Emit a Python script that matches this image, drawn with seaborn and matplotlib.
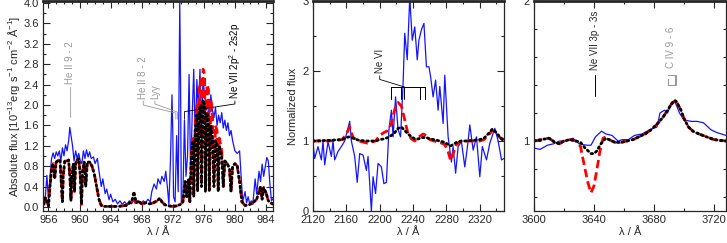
import numpy as np
import pandas as pd
import matplotlib
matplotlib.use('Agg')
import matplotlib.pyplot as plt
from matplotlib.ticker import MultipleLocator
import seaborn as sns

# ── DATA: panel 1 (FUV, absolute flux) ───────────────────────────────────────
obs1_wave = [955.4, 955.6, 955.8, 956.0, 956.2, 956.4, 956.6, 956.8, 957.0, 957.2,
             957.4, 957.6, 957.8, 958.0, 958.2, 958.4, 958.6, 958.75, 958.9, 959.1,
             959.3, 959.5, 959.7, 959.9, 960.1, 960.3, 960.5, 960.7, 960.9, 961.1,
             961.3, 961.5, 961.8, 962.0, 962.3, 962.5, 962.8, 963.0, 963.3, 963.5,
             963.8, 964.0, 964.3, 964.6, 964.9, 965.2, 965.5, 965.8, 966.1, 966.4,
             966.7, 967.0, 967.3, 967.6, 967.9, 968.2, 968.5, 968.8, 969.1, 969.3,
             969.6, 969.9, 970.1, 970.4, 970.6, 970.9, 971.1, 971.3, 971.5, 971.7,
             971.9, 972.0, 972.1, 972.3, 972.5, 972.7, 972.9, 973.0, 973.1, 973.3,
             973.5, 973.7, 973.9, 974.1, 974.3, 974.5, 974.7, 974.9, 975.1, 975.3,
             975.5, 975.7, 975.9, 976.1, 976.3, 976.5, 976.7, 976.9, 977.1, 977.3,
             977.5, 977.7, 977.9, 978.1, 978.3, 978.5, 978.7, 978.9, 979.1, 979.3,
             979.5, 979.7, 980.0, 980.3, 980.6, 980.8, 981.0, 981.3, 981.5, 981.7,
             981.9, 982.1, 982.3, 982.6, 982.8, 983.1, 983.3, 983.5, 983.7, 984.1,
             984.3, 984.5, 984.7, 985.0]
obs1_flux = [0.10, 0.20, 0.62, 0.14, 0.60, 0.95, 1.06, 0.95, 1.08, 1.00,
             1.10, 0.90, 1.16, 1.00, 1.22, 1.10, 1.30, 1.56, 1.40, 1.20,
             0.90, 1.10, 0.95, 1.05, 0.90, 0.85, 1.10, 0.95, 1.12, 0.98,
             1.08, 0.95, 0.98, 0.85, 0.95, 0.71, 0.40, 0.55, 0.26, 0.35,
             0.14, 0.25, 0.10, 0.15, 0.06, 0.12, 0.05, 0.10, 0.05, 0.12,
             0.06, 0.15, 0.08, 0.12, 0.06, 0.12, 0.08, 0.15, 0.10, 0.30,
             0.45, 0.35, 0.55, 0.45, 0.60, 0.50, 0.70, 0.40, 0.05, 0.90,
             2.20, 1.50, 0.20, 0.10, 1.40, 0.30, 4.00, 2.50, 0.10, 0.15,
             1.70, 0.60, 1.00, 2.60, 0.60, 1.80, 2.70, 1.20, 2.50, 1.90,
             2.70, 1.60, 2.50, 2.20, 1.90, 2.00, 1.70, 2.20, 1.90, 1.75,
             1.95, 1.60, 1.80, 1.65, 1.85, 1.55, 1.70, 1.50, 1.65, 1.40,
             1.50, 1.30, 1.10, 1.05, 1.10, 0.60, 0.10, 0.30, 0.08, 0.20,
             0.06, 0.12, 0.05, 0.55, 0.25, 0.70, 0.50, 0.84, 0.60, 0.97,
             0.90, 0.45, 0.12, 0.18]

mod1_wave = [955.4, 955.6, 955.8, 956.0, 956.2, 956.4, 956.6, 956.8, 957.0, 957.3,
             957.5, 957.7, 957.8, 957.9, 958.1, 958.4, 958.6, 958.8, 958.9, 959.0,
             959.2, 959.35, 959.5, 959.7, 959.9, 960.1, 960.25, 960.4, 960.6, 960.8,
             961.0, 961.3, 961.6, 961.9, 962.2, 962.5, 962.8, 963.2, 964.0, 965.0,
             965.5, 966.0, 966.5, 966.8, 967.0, 967.3, 967.6, 968.0, 968.5, 969.0,
             969.5, 970.0, 970.3, 970.6, 971.0, 971.5, 972.0, 972.5, 973.0, 973.3,
             973.6, 973.8, 974.0, 974.2, 974.4, 974.6, 974.7, 974.9, 975.1, 975.2,
             975.4, 975.6, 975.7, 975.9, 976.1, 976.2, 976.4, 976.6, 976.7, 976.9,
             977.1, 977.3, 977.5, 977.7, 977.85, 978.0, 978.3, 978.5, 978.7, 979.0,
             979.3, 979.5, 979.7, 980.0, 980.3, 980.6, 980.9, 981.3, 981.8, 982.3,
             982.8, 983.1, 983.3, 983.5, 983.7, 984.0, 984.3, 984.6, 985.0]
black1_flux = [0.05, 0.18, 0.10, 0.02, 0.40, 0.75, 0.85, 0.55, 0.88, 0.92,
               0.90, 0.35, 0.10, 0.60, 0.90, 0.90, 0.92, 0.50, 0.12, 0.55,
               0.85, 0.30, 0.85, 0.92, 0.95, 0.60, 0.05, 0.70, 0.88, 0.40,
               0.88, 0.88, 0.80, 0.65, 0.40, 0.15, 0.03, 0.01, 0.01, 0.01,
               0.02, 0.03, 0.08, 0.15, 0.30, 0.08, 0.12, 0.06, 0.08, 0.06,
               0.08, 0.12, 0.17, 0.10, 0.04, 0.02, 0.01, 0.02, 0.05, 0.10,
               0.50, 0.20, 0.55, 0.10, 1.00, 1.30, 0.20, 1.50, 1.80, 0.30,
               1.90, 2.00, 0.40, 2.10, 2.00, 0.30, 1.85, 1.70, 0.30, 1.60,
               1.40, 0.40, 1.30, 1.25, 0.30, 1.20, 1.00, 0.40, 0.90, 0.85,
               0.75, 0.30, 0.80, 0.85, 0.80, 0.50, 0.10, 0.03, 0.04, 0.08,
               0.15, 0.30, 0.40, 0.15, 0.38, 0.28, 0.12, 0.08, 0.05]
red1_flux = [0.05, 0.18, 0.10, 0.02, 0.40, 0.75, 0.85, 0.55, 0.88, 0.92,
             0.90, 0.35, 0.10, 0.60, 0.90, 0.90, 0.92, 0.50, 0.12, 0.55,
             0.85, 0.30, 0.85, 0.92, 0.95, 0.60, 0.05, 0.70, 0.88, 0.40,
             0.88, 0.88, 0.80, 0.65, 0.40, 0.15, 0.03, 0.01, 0.01, 0.01,
             0.02, 0.03, 0.08, 0.12, 0.15, 0.05, 0.10, 0.06, 0.08, 0.06,
             0.08, 0.12, 0.17, 0.10, 0.04, 0.02, 0.01, 0.02, 0.05, 0.10,
             0.45, 0.20, 0.50, 0.10, 1.05, 1.40, 0.25, 1.70, 2.00, 0.35,
             2.30, 2.50, 0.50, 2.70, 2.60, 0.40, 2.40, 2.30, 0.40, 2.10,
             1.90, 0.50, 1.60, 1.50, 0.35, 1.35, 1.10, 0.40, 0.90, 0.85,
             0.75, 0.30, 0.80, 0.85, 0.80, 0.50, 0.10, 0.03, 0.04, 0.08,
             0.15, 0.30, 0.40, 0.15, 0.38, 0.28, 0.12, 0.08, 0.05]

# ── DATA: panel 2 (UV, normalized) ───────────────────────────────────────────
obs2_wave = [2120, 2122, 2126, 2130, 2132, 2134, 2138, 2142, 2144, 2146,
             2150, 2154, 2158, 2164, 2166, 2170, 2173, 2176, 2180, 2184,
             2186, 2190, 2192, 2195, 2198, 2202, 2205, 2208, 2211, 2214,
             2216, 2219, 2222, 2225, 2228, 2230, 2233, 2236, 2239, 2242,
             2245, 2247, 2250, 2253, 2256, 2259, 2261, 2264, 2267, 2270,
             2272, 2276, 2278, 2282, 2286, 2288, 2291, 2294, 2298, 2302,
             2306, 2308, 2312, 2316, 2320, 2323, 2328, 2332, 2338, 2342,
             2346, 2349]
obs2_flux = [0.97, 0.75, 0.92, 0.73, 1.00, 0.66, 0.99, 0.78, 1.00, 0.73,
             0.85, 0.92, 1.00, 1.28, 1.00, 0.78, 0.41, 0.82, 0.80, 0.58,
             0.78, 0.00, 0.49, 0.25, 0.68, 0.63, 0.39, 0.41, 1.16, 1.44,
             1.06, 1.63, 1.16, 1.06, 1.82, 2.54, 2.16, 3.05, 2.44, 2.63,
             2.16, 2.44, 2.59, 2.68, 2.06, 2.06, 1.92, 1.63, 1.87, 1.44,
             1.78, 1.25, 1.94, 1.06, 0.70, 0.92, 0.54, 0.92, 0.99, 0.63,
             1.00, 1.23, 0.87, 1.06, 0.49, 0.92, 0.73, 0.97, 1.18, 1.00,
             0.73, 0.75]

mod2_wave = [2120, 2140, 2155, 2160, 2164, 2168, 2175, 2185, 2195, 2200,
             2205, 2210, 2214, 2218, 2222, 2226, 2230, 2234, 2238, 2242,
             2246, 2252, 2256, 2260, 2265, 2272, 2278, 2282, 2285, 2288,
             2292, 2298, 2305, 2320, 2325, 2330, 2335, 2340, 2344, 2349]
red2_flux = [1.00, 1.00, 1.02, 1.10, 1.20, 1.05, 1.00, 0.97, 1.00, 1.08,
             1.12, 1.15, 1.25, 1.45, 1.55, 1.50, 1.30, 1.10, 1.03, 1.00,
             1.05, 1.10, 1.08, 1.02, 1.00, 0.98, 0.95, 0.85, 0.72, 0.82,
             0.95, 1.00, 1.00, 1.00, 1.02, 1.08, 1.15, 1.12, 1.05, 1.02]
black2_flux = [1.00, 1.01, 1.02, 1.05, 1.06, 1.04, 1.01, 1.00, 1.00, 1.02,
               1.03, 1.05, 1.08, 1.12, 1.18, 1.20, 1.15, 1.10, 1.06, 1.03,
               1.03, 1.05, 1.05, 1.03, 1.02, 1.00, 0.98, 0.95, 0.93, 0.95,
               0.98, 1.00, 1.00, 1.02, 1.04, 1.10, 1.17, 1.12, 1.05, 1.00]

# ── DATA: panel 3 (optical, normalized) ──────────────────────────────────────
obs3_wave = [3600, 3604, 3609, 3613, 3617, 3622, 3626, 3630, 3635, 3638,
             3641, 3645, 3648, 3652, 3656, 3659, 3663, 3667, 3672, 3677,
             3682, 3684, 3687, 3689, 3691, 3694, 3697, 3700, 3705, 3709,
             3713, 3718, 3722, 3728]
obs3_flux = [0.95, 0.94, 0.97, 0.98, 1.00, 1.00, 1.02, 0.98, 0.97, 0.97,
             1.03, 1.07, 1.05, 1.04, 1.00, 1.01, 1.01, 1.04, 1.05, 1.08,
             1.10, 1.20, 1.22, 1.20, 1.25, 1.28, 1.20, 1.15, 1.14, 1.14,
             1.13, 1.08, 1.06, 1.04]

mod3_wave = [3600, 3605, 3610, 3614, 3617, 3620, 3624, 3628, 3631, 3634,
             3636, 3638, 3640, 3642, 3644, 3646, 3648, 3650, 3654, 3658,
             3662, 3666, 3670, 3674, 3678, 3682, 3686, 3689, 3692, 3694,
             3695, 3698, 3700, 3703, 3706, 3710, 3715, 3720, 3728]
red3_flux = [1.00, 1.01, 1.02, 0.99, 0.98, 1.00, 1.01, 1.00, 0.96, 0.80,
             0.70, 0.63, 0.68, 0.80, 0.93, 1.02, 1.03, 1.01, 0.99, 0.99,
             1.00, 1.01, 1.03, 1.05, 1.08, 1.12, 1.17, 1.22, 1.27, 1.29,
             1.28, 1.22, 1.16, 1.10, 1.07, 1.05, 1.03, 1.01, 1.00]
black3_flux = [1.00, 1.01, 1.02, 0.99, 0.98, 1.00, 1.01, 1.00, 0.99, 0.95,
               0.93, 0.91, 0.91, 0.93, 0.97, 1.00, 1.02, 1.01, 0.99, 0.99,
               1.00, 1.01, 1.03, 1.05, 1.08, 1.12, 1.17, 1.22, 1.27, 1.29,
               1.28, 1.22, 1.16, 1.10, 1.07, 1.05, 1.03, 1.01, 1.00]

# ── STYLE ─────────────────────────────────────────────────────────────────────
sns.set_style('ticks')
plt.rcParams['font.family'] = ['Liberation Sans', 'DejaVu Sans']
plt.rcParams['font.size'] = 8
plt.rcParams['mathtext.fontset'] = 'custom'
plt.rcParams['mathtext.rm'] = 'Liberation Sans'
plt.rcParams['mathtext.it'] = 'Liberation Sans'

W, H = 727, 243
fig = plt.figure(figsize=(W / 100, H / 100), dpi=100)


def make_ax(x0, x1, y0, y1):
    return fig.add_axes([x0 / W, 1 - y1 / H, (x1 - x0) / W, (y1 - y0) / H])


ax1 = make_ax(43, 273, 1, 211)
ax2 = make_ax(313, 504, 1, 211)
ax3 = make_ax(534, 726, 1, 211)

GRAY = '#999999'


def draw(ax, ow, of, mw, rf, bf):
    sns.lineplot(x=ow, y=of, ax=ax, color='#1414ff', lw=0.9, estimator=None, sort=False)
    sns.lineplot(x=mw, y=rf, ax=ax, color='red', lw=2.0, estimator=None, sort=False)
    ax.lines[-1].set_linestyle((0, (3, 1.5)))
    sns.lineplot(x=mw, y=bf, ax=ax, color='black', lw=2.0, estimator=None, sort=False)
    ax.lines[-1].set_linestyle((0, (0.6, 1.2)))
    ax.lines[-1].set_dash_capstyle('round')


def style(ax):
    ax.tick_params(which='both', direction='in', top=True, right=True, labelsize=8,
                   pad=3, width=0.8)
    ax.tick_params(which='major', length=5)
    ax.tick_params(which='minor', length=2.5)
    for s in ax.spines.values():
        s.set_linewidth(0.9)
    ax.spines['top'].set_linewidth(2.0)
    ax.set_xlabel('λ / Å', fontsize=8, labelpad=1)


# ── PANEL 1 ───────────────────────────────────────────────────────────────────
draw(ax1, obs1_wave, obs1_flux, mod1_wave, red1_flux, black1_flux)
ax1.set_xlim(955.3, 984.9)
ax1.set_ylim(-0.08, 4.04)
ax1.xaxis.set_major_locator(MultipleLocator(4))
ax1.xaxis.set_minor_locator(MultipleLocator(1))
ax1.yaxis.set_major_locator(MultipleLocator(0.4))
ax1.yaxis.set_minor_locator(MultipleLocator(0.2))
ax1.yaxis.set_major_formatter(matplotlib.ticker.FormatStrFormatter('%.1f'))
ax1.set_ylabel(r'Absolute flux [10$^{-13}$erg s$^{-1}$ cm$^{-2}$ Å$^{-1}$]', fontsize=8,
               labelpad=1)
style(ax1)

ax1.plot([958.8, 958.8], [1.77, 2.35], color=GRAY, lw=0.6)
ax1.text(958.8, 2.42, 'He II 9 - 2', rotation=90, color=GRAY, ha='center', va='bottom',
         fontsize=7)
ax1.plot([968.2, 968.2, 972.4, 972.4], [2.08, 2.0, 1.84, 1.72], color=GRAY, lw=0.6)
ax1.plot([969.7, 969.7, 972.6, 972.6], [2.08, 2.02, 1.86, 1.72], color=GRAY, lw=0.6)
ax1.text(968.2, 2.12, 'He II 8 - 2', rotation=90, color=GRAY, ha='center', va='bottom',
         fontsize=7)
ax1.text(969.7, 2.12, 'Lyγ', rotation=90, color=GRAY, ha='center', va='bottom',
         fontsize=7)
ax1.plot([980.0, 980.0, 973.5, 973.5], [2.08, 2.02, 1.87, 1.72], color='black', lw=0.6)
ax1.text(980.0, 2.12, r'Ne VII 2p$^2$ - 2s2p', rotation=90, color='black', ha='center',
         va='bottom', fontsize=7)

# ── PANEL 2 ───────────────────────────────────────────────────────────────────
draw(ax2, obs2_wave, obs2_flux, mod2_wave, red2_flux, black2_flux)
ax2.set_xlim(2120, 2349)
ax2.set_ylim(0, 3)
ax2.xaxis.set_major_locator(MultipleLocator(40))
ax2.xaxis.set_minor_locator(MultipleLocator(20))
ax2.yaxis.set_major_locator(MultipleLocator(1))
ax2.yaxis.set_minor_locator(MultipleLocator(0.5))
ax2.set_ylabel('Normalized flux', fontsize=8, labelpad=3)
style(ax2)

nevi = [2214, 2225, 2229, 2248, 2254]
ax2.plot([nevi[0], nevi[-1]], [1.77, 1.77], color='black', lw=0.7)
for w in nevi:
    ax2.plot([w, w], [1.77, 1.6], color='black', lw=0.7)
ax2.plot([2230, 2200, 2200], [1.77, 1.88, 1.93], color='black', lw=0.6)
ax2.text(2200, 1.97, 'Ne VI', rotation=90, ha='center', va='bottom', fontsize=7)

# ── PANEL 3 ───────────────────────────────────────────────────────────────────
draw(ax3, obs3_wave, obs3_flux, mod3_wave, red3_flux, black3_flux)
ax3.set_xlim(3600, 3728)
ax3.set_ylim(0.5, 2)
ax3.xaxis.set_major_locator(MultipleLocator(40))
ax3.xaxis.set_minor_locator(MultipleLocator(20))
ax3.yaxis.set_major_locator(MultipleLocator(1))
ax3.yaxis.set_minor_locator(MultipleLocator(0.2))
style(ax3)

ax3.plot([3640.5, 3640.5], [1.32, 1.47], color='black', lw=0.7)
ax3.text(3640.5, 1.51, 'Ne VII 3p - 3s', rotation=90, ha='center', va='bottom', fontsize=7)
ax3.plot([3689, 3694, 3694, 3689], [1.47, 1.47, 1.40, 1.40], color=GRAY, lw=0.8)
ax3.plot([3694.6, 3694.6], [1.47, 1.40], color=GRAY, lw=0.8)
ax3.plot([3689, 3689], [1.40, 1.44], color=GRAY, lw=0.8)
ax3.text(3691.5, 1.52, 'C IV 9 - 6', rotation=90, color=GRAY, ha='center', va='bottom',
         fontsize=7)

fig.savefig('out.png', dpi=100)
